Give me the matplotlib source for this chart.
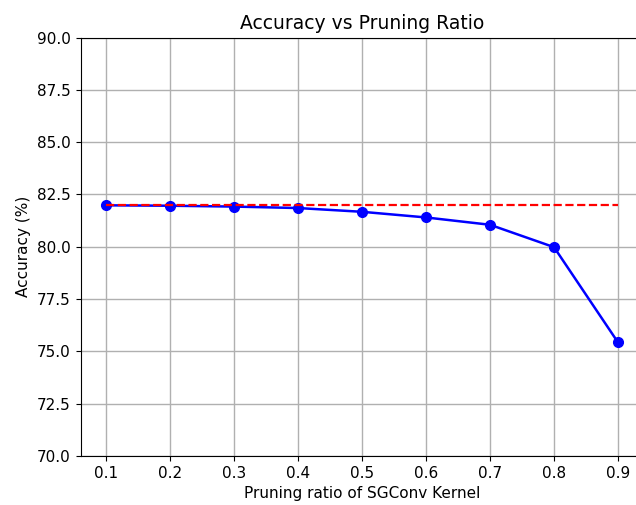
import matplotlib
matplotlib.use("Agg")
import matplotlib.pyplot as plt

ratios = [0.1, 0.2, 0.3, 0.4, 0.5, 0.6, 0.7, 0.8, 0.9]
accuracy = [81.98, 81.96, 81.92, 81.85, 81.67, 81.40, 81.05, 79.98, 75.43]
baseline = 82.0

W, H = 636, 505
fig = plt.figure(figsize=(W / 100, H / 100), dpi=100)
left_px, right_px = 80.6, 643.6
top_px, bottom_px = 37.5, 456.0
ax = fig.add_axes([left_px / W, 1 - bottom_px / H, (right_px - left_px) / W, (bottom_px - top_px) / H])

ax.plot(ratios, accuracy, "o-", color="blue", markersize=7, linewidth=1.8)
ax.plot([ratios[0], ratios[-1]], [baseline, baseline], "--", color="red", linewidth=1.6)

ax.set_xlim(0.06, 0.94)
ax.set_ylim(70, 90)
ax.set_xticks(ratios)
ax.set_xticklabels([f"{r:.1f}" for r in ratios])
ax.set_yticks([70 + 2.5 * i for i in range(9)])
ax.set_yticklabels([f"{70 + 2.5 * i:.1f}" for i in range(9)])
ax.grid(True, color="#b0b0b0", linewidth=1.0)
ax.set_axisbelow(True)
ax.tick_params(labelsize=11)
ax.set_xlabel("Pruning ratio of SGConv Kernel", fontsize=11)
ax.set_ylabel("Accuracy (%)", fontsize=11)
ax.set_title("Accuracy vs Pruning Ratio", fontsize=13.5)

fig.savefig("out.png", dpi=100)
